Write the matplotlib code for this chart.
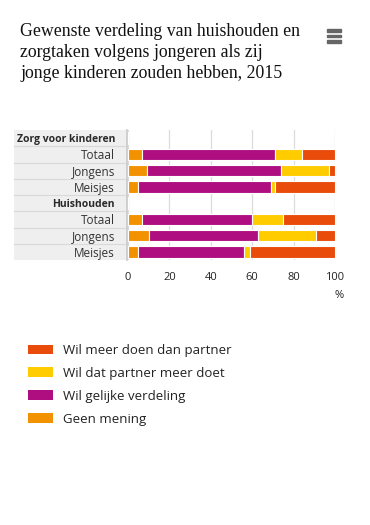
import numpy as np
import matplotlib.pyplot as plt
from matplotlib.patches import Patch, Rectangle

# data (percent), header rows have no values
categories = ['Zorg voor kinderen', 'Totaal', 'Jongens', 'Meisjes',
              'Huishouden', 'Totaal', 'Jongens', 'Meisjes']
headers = [True, False, False, False, True, False, False, False]
geen_mening = [np.nan, 7, 9, 5, np.nan, 7, 10, 5]
gelijk = [np.nan, 64, 65, 64, np.nan, 53, 53, 51]
partner_meer = [np.nan, 13, 23, 2, np.nan, 15, 28, 3]
zelf_meer = [np.nan, 16, 3, 29, np.nan, 25, 9, 41]

series = [('Geen mening', geen_mening, '#f39200'),
          ('Wil gelijke verdeling', gelijk, '#af0e80'),
          ('Wil dat partner meer doet', partner_meer, '#ffcc00'),
          ('Wil meer doen dan partner', zelf_meer, '#e94c0a')]

W, H = 370, 525
fig = plt.figure(figsize=(W / 100, H / 100), dpi=100)

def fx(px):
    return px / W

def fy(py):
    return 1 - py / H

top, bottom = 130, 260
# grey label column
lab = fig.add_axes([fx(14), fy(bottom), fx(127) - fx(14), fy(top) - fy(bottom)])
lab.set_xlim(0, 1)
lab.set_ylim(len(categories) - 0.5, -0.5)
lab.set_facecolor('#efefef')
for s in lab.spines.values():
    s.set_visible(False)
lab.spines['right'].set_visible(True)
lab.spines['right'].set_color('#c8c8c8')
lab.spines['right'].set_linewidth(1.2)
lab.set_xticks([])
lab.set_yticks([])
for i in range(1, len(categories)):
    lab.axhline(i - 0.5, color='#d9d9d9', lw=0.8)

ax = fig.add_axes([fx(128), fy(bottom), fx(335) - fx(128), fy(top) - fy(bottom)])
y = np.arange(len(categories))
left = np.zeros(len(categories))
for name, vals, col in series:
    v = np.nan_to_num(np.array(vals, dtype=float))
    ax.barh(y, v, left=left, height=0.72, color=col, edgecolor='white',
            linewidth=0.8, label=name)
    left += v

ax.set_xlim(0, 100)
ax.set_ylim(len(categories) - 0.5, -0.5)
ax.set_xticks([0, 20, 40, 60, 80, 100])
ax.grid(axis='x', color='#dcdcdc', lw=0.9)
ax.set_axisbelow(True)
for s in ax.spines.values():
    s.set_visible(False)
ax.tick_params(axis='both', length=0)
ax.tick_params(axis='x', pad=9, labelsize=8, labelcolor='#222222')
ax.set_yticks(y)
ax.set_yticklabels(categories, fontsize=8.5, color='#333333', family='Open Sans')
for t, h in zip(ax.get_yticklabels(), headers):
    if h:
        t.set_fontweight('bold')
        t.set_fontsize(7.5)
        t.set_color('#2a2a2a')
ax.tick_params(axis='y', pad=9.4)
for t in ax.get_xticklabels():
    t.set_family('Open Sans')

fig.text(fx(339), fy(295), '%', ha='center', va='center', fontsize=8,
         color='#222222', family='Open Sans')

# title (baseline of the last line)
fig.text(fx(20), fy(78), 'Gewenste verdeling van huishouden en\n'
         'zorgtaken volgens jongeren als zij\n'
         'jonge kinderen zouden hebben, 2015',
         ha='left', va='baseline', fontsize=12.8, family='Liberation Serif',
         linespacing=1.29, color='#111111')

# menu icon
for yy in (30.7, 36, 41.3):
    fig.patches.append(Rectangle((fx(327), fy(yy + 1.35)), fx(14), 2.7 / H,
                                 transform=fig.transFigure, color='#666666'))

# legend
handles = [Patch(facecolor=c, label=n) for n, _, c in series[::-1]]
fig.legend(handles=handles, loc='upper left',
           bbox_to_anchor=(fx(28), fy(344)), frameon=False,
           borderpad=0, borderaxespad=0,
           prop={'family': 'Open Sans', 'size': 9.5},
           handlelength=1.86, handleheight=0.76, handletextpad=0.78,
           labelspacing=0.75, labelcolor='#222222')

fig.savefig('out.png', dpi=100)
